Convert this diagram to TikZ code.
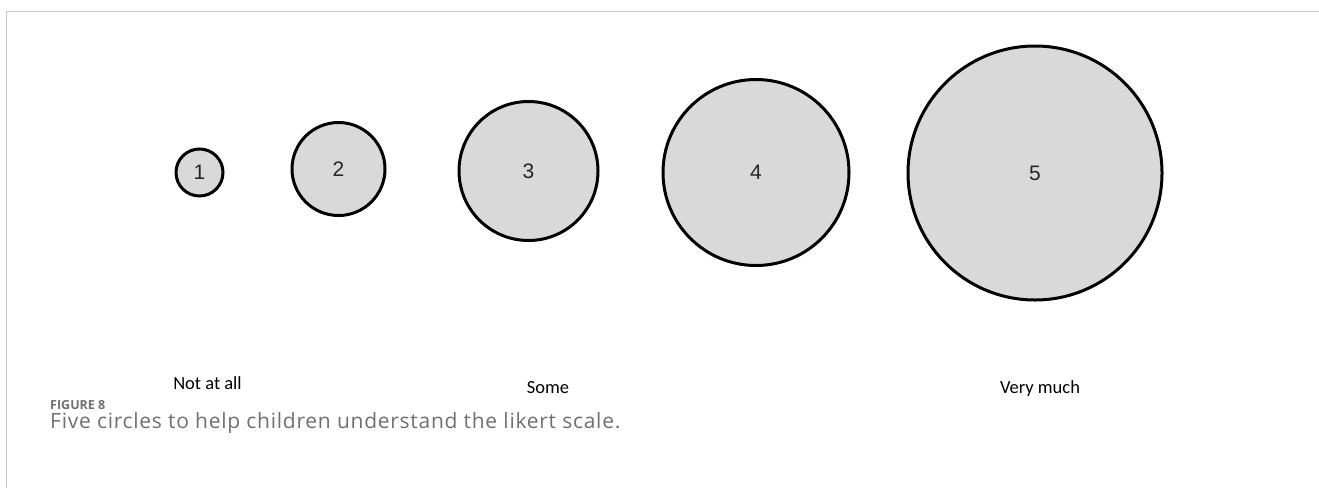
\documentclass[tikz,border=0pt]{standalone}
\usepackage{fontspec}
\setmainfont{Liberation Sans}
\newfontfamily\labelfont{Carlito}
\newfontfamily\capfont[LetterSpace=3.5]{Open Sans}
\newfontfamily\figfont{Open Sans}
\definecolor{circfill}{HTML}{D9D9D9}
\definecolor{framegray}{HTML}{C8C8C8}
\definecolor{capgray}{HTML}{707070}
\tikzset{
  likert/.style={circle, draw=black, line width=3pt, fill=circfill, inner sep=0pt,
    font=\fontsize{21}{21}\selectfont, text=black!85},
  scalelabel/.style={anchor=base, font=\labelfont\fontsize{18.5}{18.5}\selectfont, text=black},
}
\begin{document}
\begin{tikzpicture}[x=1pt,y=-1pt]
\useasboundingbox (0,0) rectangle (1319,488);
\fill[white] (0,0) rectangle (1319,488);
\draw[framegray, line width=1.3pt] (6.5,488) -- (6.5,11.5) -- (1319,11.5);
\node[likert, minimum size=47pt] (c1) at (199.5,172.5) {1};
\node[likert, minimum size=93pt] (c2) at (338.5,169) {2};
\node[likert, minimum size=139pt] (c3) at (528.5,171) {3};
\node[likert, minimum size=186pt] (c4) at (756,172.5) {4};
\node[likert, minimum size=254pt] (c5) at (1035,173) {5};
\node[scalelabel] (l1) at (207.5,389) {Not at all};
\node[scalelabel] (l3) at (548,393) {Some};
\node[scalelabel] (l5) at (1040,393) {Very much};
\node[anchor=base west, inner sep=0pt, text=capgray, font=\figfont\bfseries\fontsize{12.5}{12.5}\selectfont] (fig) at (50,409) {FIGURE 8};
\node[anchor=base west, inner sep=0pt, text=capgray, font=\capfont\fontsize{21}{21}\selectfont] (cap) at (50,428.5) {Five circles to help children understand the likert scale.};
\end{tikzpicture}
\end{document}
